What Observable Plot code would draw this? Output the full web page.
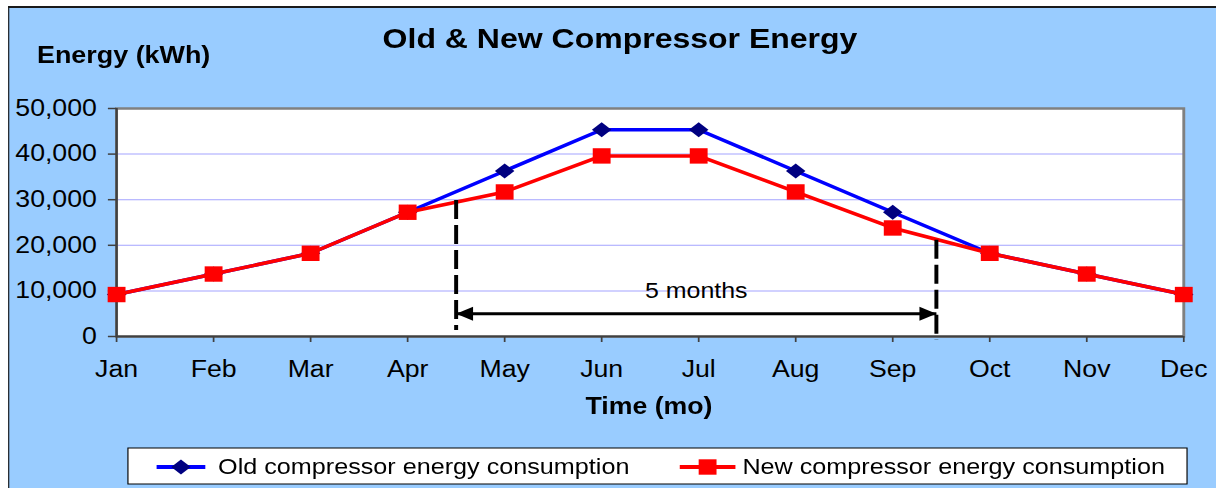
<!DOCTYPE html>
<html><head><meta charset="utf-8">
<script src="https://cdn.jsdelivr.net/npm/d3@7"></script>
<script src="https://cdn.jsdelivr.net/npm/@observablehq/plot@0.6"></script>
<style>
html,body{margin:0;padding:0;background:#ffffff;overflow:hidden;width:1216px;height:488px;}
#stage{position:relative;width:1048px;height:488px;transform:scale(1.16,1);transform-origin:0 0;font-family:"Liberation Sans",Arial,sans-serif;}
#bg{position:absolute;left:6.9px;top:6px;right:-200px;bottom:-10px;background:#99CCFF;border-top:2px solid #1a1a1a;border-left:1px solid #1a1a1a;}
#chart{position:absolute;left:0;top:0;}
#over{position:absolute;left:0;top:0;overflow:visible;}
</style></head><body>
<div id="stage"><div id="bg"></div><div id="chart"></div><svg id="over" width="1048" height="488"></svg></div>
<script>
// ---- data ----
const months = ["Jan","Feb","Mar","Apr","May","Jun","Jul","Aug","Sep","Oct","Nov","Dec"];
const oldEnergy = [9200, 13700, 18250, 27250, 36300, 45350, 45350, 36300, 27250, 18250, 13700, 9200];
const newEnergy = [9200, 13700, 18250, 27250, 31700, 39600, 39600, 31700, 23800, 18250, 13700, 9200];
const yTicks = [0, 10000, 20000, 30000, 40000, 50000];
const dashX = [3.5, 8.45];
const dashTop = [29800, 21100];
const dashBottom = [1300, -900];
const arrowY = 5000;
const arrowLabel = "5 months";
const arrowLabelY = 8550;
const seriesNames = ["Old compressor energy consumption", "New compressor energy consumption"];
const titleText = "Old & New Compressor Energy";
const yLabel = "Energy (kWh)";
const xLabel = "Time (mo)";

// ---- tables ----
const oldData = months.map((m, i) => ({i, month: m, v: oldEnergy[i]}));
const newData = months.map((m, i) => ({i, month: m, v: newEnergy[i]}));
const dashData = dashX.map((x, i) => ({x, top: dashTop[i], bottom: dashBottom[i]}));
const arrowData = [{x1: dashX[0], x2: dashX[1], y: arrowY}];
const headData = [{x: dashX[0], y: arrowY, dir: "L"}, {x: dashX[1], y: arrowY, dir: "R"}];
const labelData = [{x: (dashX[0] + dashX[1]) / 2, y: arrowLabelY, t: arrowLabel}];

// ---- custom symbols ----
const diamondSym = {draw(ctx) { const hx = 8.4, hy = 7.5; ctx.moveTo(0, -hy); ctx.lineTo(hx, 0); ctx.lineTo(0, hy); ctx.lineTo(-hx, 0); ctx.closePath(); }};
const squareSym = {draw(ctx) { const h = 7.7; ctx.moveTo(-h, -h); ctx.lineTo(h, -h); ctx.lineTo(h, h); ctx.lineTo(-h, h); ctx.closePath(); }};
const headL = {draw(ctx) { ctx.moveTo(0, 0); ctx.lineTo(14.6, -7); ctx.lineTo(14.6, 7); ctx.closePath(); }};
const headR = {draw(ctx) { ctx.moveTo(0, 0); ctx.lineTo(-14.6, -7); ctx.lineTo(-14.6, 7); ctx.closePath(); }};

const font = "'Liberation Sans', Arial, sans-serif";

const chart = Plot.plot({
  width: 1048, height: 488,
  marginLeft: 100, marginRight: 28, marginTop: 108, marginBottom: 152,
  style: {background: "transparent", fontFamily: font, fontSize: "23px", color: "black", overflow: "visible"},
  x: {type: "linear", domain: [0, 11]},
  y: {domain: [0, 50000]},
  marks: [
    Plot.frame({fill: "white"}),
    Plot.gridY(yTicks.filter(t => t > 0 && t < 50000), {stroke: "#9999FF", strokeOpacity: 0.9, strokeWidth: 1}),
    Plot.frame({stroke: "#808080", strokeWidth: 2.5}),
    Plot.ruleX([0], {stroke: "#404040", strokeWidth: 2}),
    Plot.ruleY([0], {stroke: "#404040", strokeWidth: 2}),
    Plot.axisY({ticks: yTicks, tickFormat: d3.format(","), tickSize: 7, tickPadding: 10, fontSize: 23, stroke: "#404040", fill: "black", strokeWidth: 1.5, label: null}),
    Plot.axisX({ticks: d3.range(12), tickFormat: i => months[i], tickSize: 6, tickPadding: 18, fontSize: 23, stroke: "#404040", fill: "black", strokeWidth: 1.5, label: null}),
    Plot.line(oldData, {x: "i", y: "v", stroke: "#0000FF", strokeWidth: 3.5}),
    Plot.dot(oldData, {x: "i", y: "v", symbol: diamondSym, fill: "#000080", stroke: "none", r: 8}),
    Plot.line(newData, {x: "i", y: "v", stroke: "#FF0000", strokeWidth: 3.5}),
    Plot.dot(newData, {x: "i", y: "v", symbol: squareSym, fill: "#FF0000", stroke: "none", r: 8}),
    Plot.ruleX(dashData, {x: "x", y1: "top", y2: "bottom", stroke: "black", strokeWidth: 3.4, strokeDasharray: "19,6"}),
    Plot.link(arrowData, {x1: "x1", x2: "x2", y1: "y", y2: "y", stroke: "black", strokeWidth: 3}),
    Plot.dot(headData.filter(d => d.dir === "L"), {x: "x", y: "y", symbol: headL, fill: "black", stroke: "none", r: 8}),
    Plot.dot(headData.filter(d => d.dir === "R"), {x: "x", y: "y", symbol: headR, fill: "black", stroke: "none", r: 8}),
    Plot.text(labelData, {x: "x", y: "y", text: "t", fontSize: 21.5, lineAnchor: "bottom", fill: "black", fontFamily: font})
  ]
});
document.getElementById("chart").appendChild(chart);

// ---- titles and legend ----
const over = d3.select("#over");
over.append("text").attr("x", 534.5).attr("y", 48).attr("text-anchor", "middle")
  .attr("font-family", font).attr("font-weight", "bold").attr("font-size", 27.6).text(titleText);
over.append("text").attr("x", 31.9).attr("y", 63.3)
  .attr("font-family", font).attr("font-weight", "bold").attr("font-size", 23.2).text(yLabel);
over.append("text").attr("x", 559.5).attr("y", 414).attr("text-anchor", "middle")
  .attr("font-family", font).attr("font-weight", "bold").attr("font-size", 23).text(xLabel);

const lg = over.append("g");
lg.append("rect").attr("x", 110.3).attr("y", 448).attr("width", 913).attr("height", 36)
  .attr("fill", "white").attr("stroke", "black").attr("stroke-width", 1);
const legendItems = [
  {name: seriesNames[0], line: "#0000FF", mark: "#000080", sym: diamondSym, x0: 135, x1: 177, cx: 156, tx: 188},
  {name: seriesNames[1], line: "#FF0000", mark: "#FF0000", sym: squareSym, x0: 586, x1: 634, cx: 610, tx: 640}
];
legendItems.forEach(it => {
  lg.append("line").attr("x1", it.x0).attr("x2", it.x1).attr("y1", 467).attr("y2", 467)
    .attr("stroke", it.line).attr("stroke-width", 4);
  lg.append("path").attr("transform", `translate(${it.cx},467)`).attr("d", d3.symbol(it.sym, 64)()).attr("fill", it.mark);
  lg.append("text").attr("x", it.tx).attr("y", 474).attr("font-family", font).attr("font-size", 21.7).text(it.name);
});
</script>
</body></html>
